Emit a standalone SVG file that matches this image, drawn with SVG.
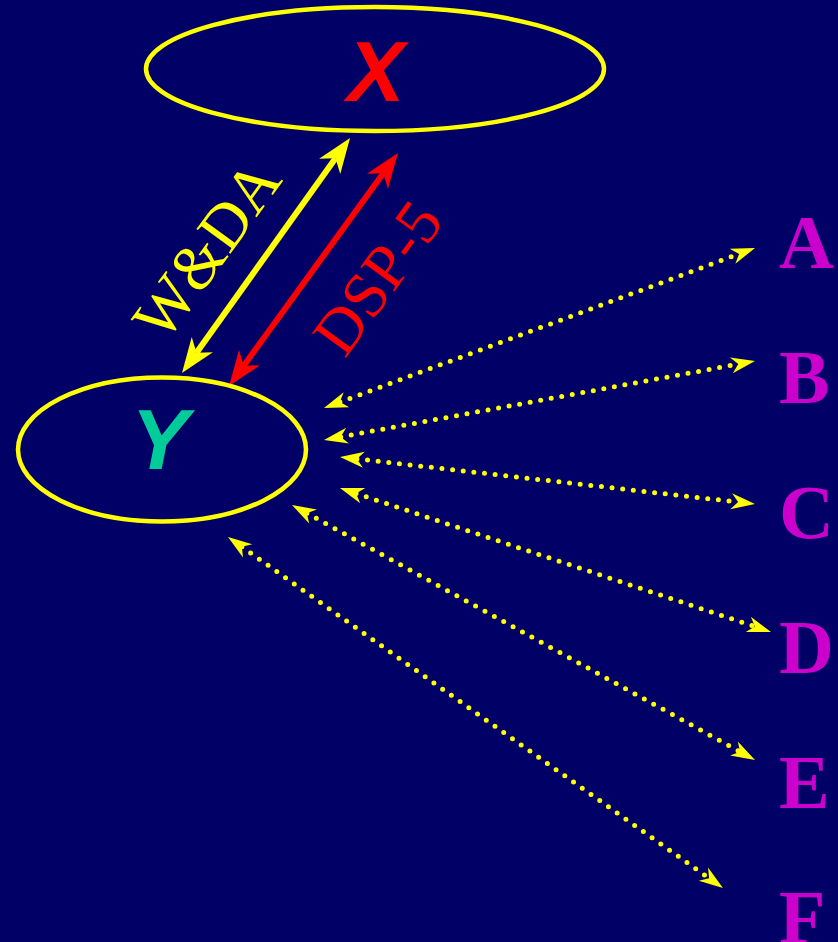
<svg xmlns="http://www.w3.org/2000/svg" width="838" height="942" viewBox="0 0 838 942">
<style>
.ell{fill:none;stroke:#ffff00;stroke-width:4.5}
.big{font-family:"Liberation Sans",Arial,sans-serif;font-weight:bold;font-style:italic;font-size:86px;text-anchor:middle}
.lab{font-family:"Liberation Serif","Times New Roman",serif;font-size:64px;text-anchor:middle}
.let{font-family:"Liberation Serif","Times New Roman",serif;font-weight:bold;font-size:76px;fill:#cc00cc}
.dot{stroke:#ffff00;stroke-width:5;stroke-linecap:round;stroke-dasharray:0 10.7;fill:none;marker-start:url(#da);marker-end:url(#da)}
</style>
<defs>
<marker id="ay" viewBox="-11 -14 38 28" refX="0" refY="0" markerWidth="38" markerHeight="28" markerUnits="userSpaceOnUse" orient="auto-start-reverse"><path d="M25,0 L-10,-13 L0,0 L-10,13 Z" fill="#ffff00"/></marker>
<marker id="ar" viewBox="-11 -14 38 28" refX="0" refY="0" markerWidth="38" markerHeight="28" markerUnits="userSpaceOnUse" orient="auto-start-reverse"><path d="M25,0 L-10,-13 L0,0 L-10,13 Z" fill="#ff0000"/></marker>
<marker id="da" viewBox="-8 -9 26 18" refX="0" refY="0" markerWidth="26" markerHeight="18" markerUnits="userSpaceOnUse" orient="auto-start-reverse"><path d="M17,0 L-7,-8 L0,0 L-7,8 Z" fill="#ffff00"/></marker>
</defs>
<rect width="838" height="942" fill="#000066"/>
<g id="connectors">
<line x1="196.5" y1="352.7" x2="335.5" y2="158.3" stroke="#ffff00" stroke-width="6" marker-start="url(#ay)" marker-end="url(#ay)"/>
<line x1="243.7" y1="365.7" x2="383.3" y2="173.3" stroke="#ff0000" stroke-width="6" marker-start="url(#ar)" marker-end="url(#ar)"/>
<text class="lab" fill="#ffff00" transform="translate(207,250) rotate(-54)" x="0" y="21">W&amp;DA</text>
<text class="lab" fill="#ff0000" transform="translate(378,278) rotate(-54)" x="0" y="21">DSP-5</text>
<line class="dot" x1="339.9" y1="402.1" x2="739.1" y2="253.9"/>
<line class="dot" x1="340.7" y1="436.9" x2="738.3" y2="364.1"/>
<line class="dot" x1="356.9" y1="458.9" x2="738.1" y2="502.1"/>
<line class="dot" x1="356.1" y1="493.4" x2="754.9" y2="626.6"/>
<line class="dot" x1="306.9" y1="513.2" x2="740.1" y2="751.8"/>
<line class="dot" x1="241.9" y1="546.8" x2="709.1" y2="878.2"/>
</g>
<g id="X"><ellipse class="ell" cx="375" cy="69" rx="229" ry="62"/><text class="big" x="376" y="101" fill="#ff0000">X</text></g>
<g id="Y"><ellipse class="ell" cx="162" cy="449.5" rx="144" ry="72"/><text class="big" x="160" y="469" fill="#00cc99">Y</text></g>
<g id="A"><text class="let" x="779" y="268">A</text></g>
<g id="B"><text class="let" x="779" y="403">B</text></g>
<g id="C"><text class="let" x="779" y="538">C</text></g>
<g id="D"><text class="let" x="779" y="673">D</text></g>
<g id="E"><text class="let" x="779" y="808">E</text></g>
<g id="F"><text class="let" x="779" y="943">F</text></g>
</svg>
